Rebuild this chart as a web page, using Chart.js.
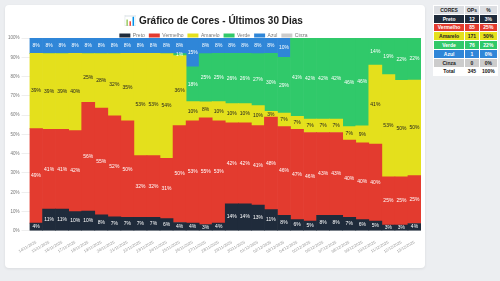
<!DOCTYPE html>
<html lang="pt-BR">
<head>
<meta charset="utf-8">
<script src="https://cdn.jsdelivr.net/npm/chart.js@4.4.0/dist/chart.umd.min.js"></script>
<style>
    html, body { margin: 0; padding: 0; }
    body {
        width: 500px; height: 281px; overflow: hidden;
        background: #eceef1;
        font-family: Arial, "Liberation Sans", sans-serif;
        position: relative;
    }
    .card {
        position: absolute; left: 5px; top: 5px; width: 420px; height: 263px;
        background: #fff; border-radius: 4px;
        box-shadow: 0 1px 3px rgba(0,0,0,0.08);
    }
    .chart-box { position: absolute; left: 0; top: 0; width: 420px; height: 250px; }
    #resumo {
        position: absolute; left: 433px; top: 5px; width: 65px;
        border-collapse: collapse; font-size: 5px; font-weight: bold;
    }
    #resumo th, #resumo td {
        height: 7.8px; padding: 0; text-align: center; border: 1px solid #fff;
    }
    #resumo th { background: #dcdee2; color: #222; }
</style>
</head>
<body>
<div class="card">
    <div class="chart-box"><canvas id="coresChart"></canvas></div>
</div>
<table id="resumo">
    <thead><tr><th>CORES</th><th>OPs</th><th>%</th></tr></thead>
    <tbody></tbody>
</table>
<script>
// datas (últimos 30 dias)
const dias = [
    '14/11/2025', '15/11/2025', '16/11/2025', '17/11/2025', '18/11/2025',
    '19/11/2025', '20/11/2025', '21/11/2025', '22/11/2025', '23/11/2025',
    '24/11/2025', '25/11/2025', '26/11/2025', '27/11/2025', '28/11/2025',
    '29/11/2025', '30/11/2025', '01/12/2025', '02/12/2025', '03/12/2025',
    '04/12/2025', '05/12/2025', '06/12/2025', '07/12/2025', '08/12/2025',
    '09/12/2025', '10/12/2025', '11/12/2025', '12/12/2025', '13/12/2025'
];

// % por dia de cada cor
const preto = [4, 11.3, 11.3, 10, 10.3, 8.3, 7.3, 7, 7, 7, 6.3, 4.3, 4, 3.3, 4,
    14, 14, 13.3, 11, 8, 5.8, 5, 8, 8, 7, 5.8, 5, 3, 3, 3.8];
const vermelho = [49, 41.3, 41.3, 42, 56.3, 55.3, 52.3, 50, 32, 32, 31.3, 50.3, 53, 55.3, 53,
    42, 42, 41.3, 48, 46, 46.8, 46, 43, 43, 40, 39.8, 40, 25, 25, 24.8];
const amarelo = [39, 39.3, 39.3, 40, 25.3, 28.3, 32.3, 35, 53, 53, 54.3, 36.3, 10, 8.3, 10,
    10, 10, 10.3, 3, 7, 6.8, 7, 7, 7, 7, 8.8, 41, 53, 50, 49.6];
const verde = [0, 0, 0, 0, 0, 0, 0, 0, 0, 0, 0, 1, 18, 25, 25,
    26, 26, 27, 30, 29, 40.6, 42, 42, 42, 46, 45.6, 14, 19, 22, 21.8];
const azul = [8, 8.1, 8.1, 8, 8.1, 8.1, 8.1, 8, 8, 8, 8.1, 8.1, 15, 8.1, 8,
    8, 8, 8.1, 8, 10, 0, 0, 0, 0, 0, 0, 0, 0, 0, 0];
const cinza = new Array(30).fill(0);

// tabela resumo
const coresNomes = ['Preto', 'Vermelho', 'Amarelo', 'Verde', 'Azul', 'Cinza'];
const coresOps = [12, 85, 171, 76, 1, 0];
const coresPct = ['3%', '25%', '50%', '22%', '0%', '0%'];
const totalOps = 345;

const cores = ['#1f2b3b', '#e33b2f', '#e4e01c', '#30c96a', '#2f86d8', '#cccccc'];
const textoCores = ['#fff', '#fff', '#222', '#fff', '#fff', '#222'];

// monta tabela
const tbody = document.querySelector('#resumo tbody');
coresNomes.forEach((nome, i) => {
    const tr = document.createElement('tr');
    tr.style.background = cores[i];
    tr.style.color = textoCores[i];
    tr.innerHTML = `<td>${nome}</td><td>${coresOps[i]}</td><td>${coresPct[i]}</td>`;
    tbody.appendChild(tr);
});
const trTotal = document.createElement('tr');
trTotal.style.background = '#fff';
trTotal.style.color = '#111';
trTotal.innerHTML = `<td>Total</td><td>${totalOps}</td><td>100%</td>`;
tbody.appendChild(trTotal);

Chart.defaults.font.family = 'Arial, "Liberation Sans", sans-serif';

// rótulos de % dentro das barras
const rotulosPct = {
    id: 'rotulosPct',
    afterDatasetsDraw(chart) {
        const ctx = chart.ctx;
        ctx.save();
        ctx.font = '5px Arial, "Liberation Sans", sans-serif';
        ctx.textAlign = 'center';
        ctx.textBaseline = 'middle';
        chart.data.datasets.forEach((ds, di) => {
            const meta = chart.getDatasetMeta(di);
            meta.data.forEach((bar, i) => {
                const v = ds.data[i];
                if (!v) return;
                ctx.fillStyle = textoCores[di];
                ctx.fillText(Math.round(v) + '%', bar.x, (bar.y + bar.base) / 2);
            });
        });
        ctx.restore();
    }
};

// legenda mais compacta
const legendaCompacta = {
    id: 'legendaCompacta',
    beforeInit(chart) {
        const fit = chart.legend.fit;
        chart.legend.fit = function () {
            fit.bind(chart.legend)();
            this.height -= 10;
        };
    }
};

const series = [preto, vermelho, amarelo, verde, azul, cinza];

new Chart(document.getElementById('coresChart'), {
    type: 'bar',
    data: {
        labels: dias,
        datasets: coresNomes.map((nome, i) => ({
            label: nome,
            data: series[i],
            backgroundColor: cores[i],
            borderWidth: 0,
            barPercentage: 1,
            categoryPercentage: 1
        }))
    },
    options: {
        responsive: true,
        maintainAspectRatio: false,
        animation: false,
        layout: { padding: { top: 6, left: 1, right: 4, bottom: 0 } },
        plugins: {
            title: {
                display: true,
                text: '📊 Gráfico de Cores - Últimos 30 Dias',
                color: '#1a1a1a',
                font: { size: 10, weight: 'bold' },
                padding: { top: 4, bottom: 2 }
            },
            legend: {
                position: 'top',
                labels: {
                    boxWidth: 11,
                    boxHeight: 4,
                    padding: 4,
                    color: '#777',
                    font: { size: 5 }
                }
            },
            tooltip: { enabled: false }
        },
        scales: {
            x: {
                stacked: true,
                grid: { display: false },
                border: { display: false },
                ticks: {
                    autoSkip: false,
                    maxRotation: 30,
                    minRotation: 30,
                    color: '#999',
                    font: { size: 4 },
                    padding: 1
                }
            },
            y: {
                stacked: true,
                min: 0,
                max: 100,
                border: { display: false },
                grid: { color: '#eee' },
                ticks: {
                    stepSize: 10,
                    color: '#777',
                    font: { size: 4.5 },
                    padding: 2,
                    callback: v => v + '%'
                }
            }
        }
    },
    plugins: [rotulosPct, legendaCompacta]
});
</script>
</body>
</html>
